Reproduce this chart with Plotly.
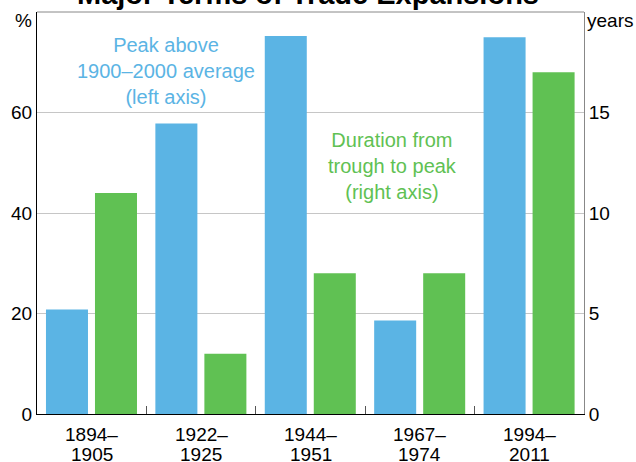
import plotly.graph_objects as go

# ---- data ----
periods = ["1894–1905", "1922–1925", "1944–1951", "1967–1974", "1994–2011"]
label_top = ["1894–", "1922–", "1944–", "1967–", "1994–"]
label_bottom = ["1905", "1925", "1951", "1974", "2011"]
peak_above_avg = [20.8, 57.8, 75.2, 18.6, 75.0]      # % (left axis)
duration_years = [11, 3, 7, 7, 17]                  # years (right axis)
left_ticks = [0, 20, 40, 60]
right_ticks = [0, 5, 10, 15]

BLUE = "#5BB4E4"
GREEN = "#60C153"
FONT = "Liberation Sans, Arial, sans-serif"

fig = go.Figure()
fig.add_trace(go.Bar(
    x=periods, y=peak_above_avg, marker_color=BLUE, marker_line_width=0,
    width=0.384, offset=-0.418, yaxis="y", showlegend=False,
))
fig.add_trace(go.Bar(
    x=periods, y=duration_years, marker_color=GREEN, marker_line_width=0,
    width=0.384, offset=0.030, yaxis="y2", showlegend=False,
))

annotations = []
for p, t, b in zip(periods, label_top, label_bottom):
    annotations.append(dict(x=p, xref="x", y=0, yref="paper", text=t, showarrow=False,
                            yanchor="middle", yshift=-20, font=dict(size=19, color="black")))
    annotations.append(dict(x=p, xref="x", y=0, yref="paper", text=b, showarrow=False,
                            yanchor="middle", yshift=-40, font=dict(size=19, color="black")))

annotations += [
    dict(x=0.496, xref="paper", y=1, yref="paper", text="<b>Major Terms of Trade Expansions</b>",
         showarrow=False, xanchor="center", yanchor="middle", yshift=18,
         font=dict(size=29, color="black")),
    dict(x=0, xref="paper", y=1, yref="paper", text="%", showarrow=False,
         xanchor="center", yanchor="middle", xshift=-14, yshift=-8,
         font=dict(size=19, color="black")),
    dict(x=1, xref="paper", y=1, yref="paper", text="years", showarrow=False,
         xanchor="left", yanchor="middle", xshift=1, yshift=-8,
         font=dict(size=19, color="black")),
    dict(x=0.235, xref="paper", y=71, yref="y",
         text="Peak above<br>1900–2000 average<br>(left axis)", showarrow=False,
         xanchor="center", yanchor="middle", align="center",
         font=dict(size=20, color=BLUE)),
    dict(x=0.649, xref="paper", y=166, yref="y",
         text="Duration from<br>trough to peak<br>(right axis)", showarrow=False,
         xanchor="center", yanchor="middle", align="center",
         font=dict(size=20, color=GREEN)),
]
# convert pixel-y of in-plot annotations to data units (left axis)
for a in annotations[-2:]:
    a["y"] = (414 - a["y"]) / 402.3 * 80

fig.update_layout(
    width=636, height=462,
    margin=dict(l=37, r=52, t=12, b=48, autoexpand=False),
    paper_bgcolor="white", plot_bgcolor="white",
    font=dict(family=FONT, size=19, color="black"),
    barmode="overlay",
    xaxis=dict(type="category", categoryorder="array", categoryarray=periods,
               range=[-0.5, 4.5], showticklabels=False, ticks="inside",
               tickson="boundaries", ticklen=8, tickcolor="#555", tickwidth=1,
               showline=True, linecolor="black", linewidth=1, showgrid=False,
               zeroline=False, automargin=False),
    yaxis=dict(range=[0, 80], tickvals=left_ticks, showgrid=True, gridcolor="#c6c6c6",
               gridwidth=1, showline=True, linecolor="black", linewidth=1,
               ticks="", zeroline=False, tickfont=dict(size=19), automargin=False),
    yaxis2=dict(range=[0, 20], tickvals=right_ticks, overlaying="y", side="right",
                showgrid=False, showline=True, linecolor="#888", linewidth=1,
                ticks="", zeroline=False, tickfont=dict(size=19), automargin=False),
    shapes=[dict(type="line", xref="paper", yref="paper", x0=0, x1=1, y0=1, y1=1,
                 line=dict(color="#888", width=1))],
    annotations=annotations,
)

fig.write_html(
    "out.html",
    config={"displayModeBar": False},
    post_script="document.body.style.margin='0';document.body.style.overflow='hidden';",
)
